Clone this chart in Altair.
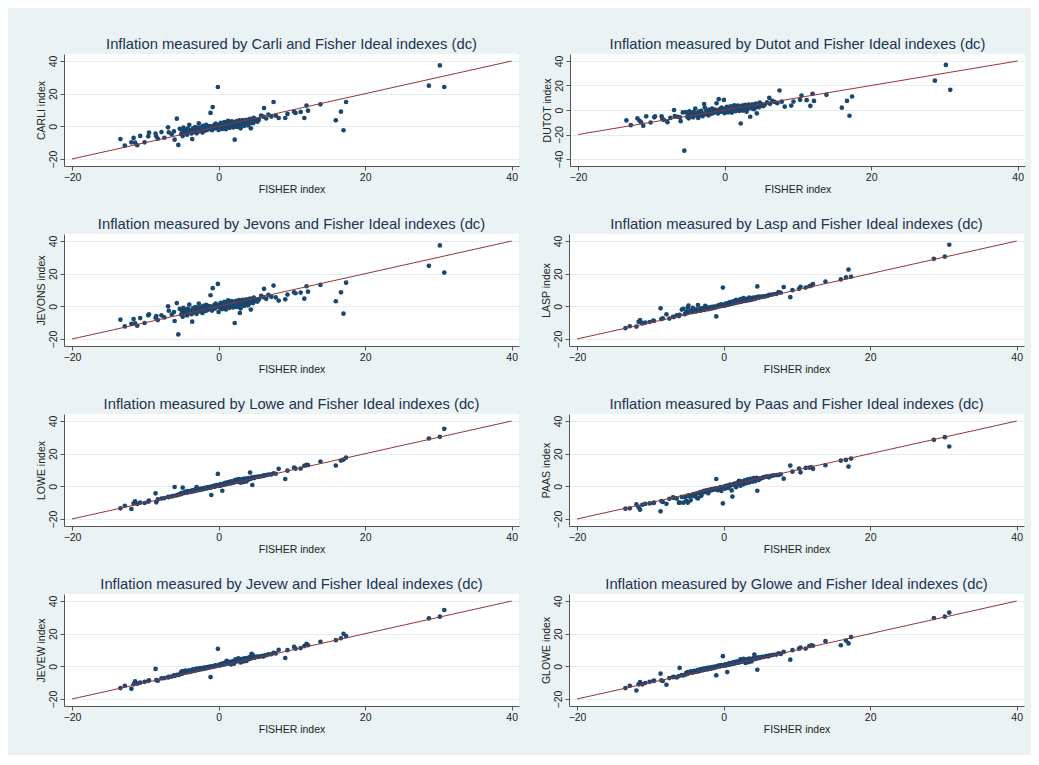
import altair as alt
import pandas as pd

# ---------------- data ----------------
FISHER = [
    -13.4, -12.8, -11.9, -11.6, -11.4, -11.1, -10.7, -10.1, -9.6, -9.5,
    -8.6, -8.5, -8.3, -7.8, -7.4, -6.9, -6.8, -6.4, -6.1, -6.0,
    -5.7, -5.5,
    -5.3, -5.1, -5.0, -4.9, -4.8, -4.6, -4.5, -4.3, -4.2, -4.1,
    -4.0, -3.8, -3.7, -3.6, -3.5, -3.3, -3.2, -3.1, -3.0, -2.8,
    -2.7, -2.6, -2.5, -2.3, -2.2, -2.1, -2.0, -1.8, -1.7, -1.6,
    -1.5, -1.3, -1.2, -1.1, -1.0, -0.9, -0.8, -0.6, -0.5, -0.4,
    -0.3, -0.1,
    0.0, 0.1, 0.2, 0.3, 0.4, 0.5, 0.6, 0.7, 0.8, 0.9,
    1.0, 1.1, 1.2, 1.3, 1.4, 1.5, 1.6, 1.7, 1.8, 1.9,
    2.0, 2.1, 2.2, 2.3, 2.4, 2.5, 2.6, 2.7, 2.8, 2.9,
    3.0, 3.1, 3.2, 3.3, 3.4, 3.5, 3.6, 3.7, 3.8, 3.9,
    4.0, 4.1, 4.2, 4.3, 4.4, 4.5, 4.6, 4.7, 4.8, 4.9,
    5.1, 5.3,
    5.5, 5.8, 6.1, 6.2, 6.5, 6.8, 7.2, 7.5, 7.8, 8.2,
    9.1, 9.4, 10.3, 10.5, 11.2, 11.7, 12.0, 12.2, 13.9,
    16.0, 16.7, 17.05, 17.4, 28.7, 30.2, 30.8,
]

CARLI = [
    -7.8, -11.8, -9.8, -7.1, -10.0, -11.6, -5.9, -9.8, -6.1, -3.9,
    -4.5, -6.1, -7.6, -3.5, -7.0, -0.6, -3.7, -4.9, -3.1, -8.2,
    4.7, -11.4,
    -1.5, -4.8, -2.6, -6.0, -0.8, -3.9, -2.2, -5.1, -1.4, -3.0,
    0.9, -2.5, -4.4, -7.8, -1.2, -3.4, -0.5, -2.2, -4.3, -1.0,
    1.8, -2.9, -0.8, -1.9, -3.8, 0.3, -1.4, -2.6, 0.9, -0.6,
    -2.1, 0.2, -1.1, 8.2, -0.2, -2.4, 11.8, 0.8, -1.3, 1.6,
    -0.4, 24.1,
    -2.2, 0.9, -0.8, 2.1, 0.1, -1.6, 1.2, -0.3, 2.6, 0.5,
    -1.8, 1.7, 0.0, 3.4, 1.1, -0.9, 2.0, 0.6, 3.0, 1.4,
    -0.7, 2.3, -8.2, 1.0, 3.1, -0.4, 1.9, 0.8, 3.6, 1.5,
    -1.2, 2.4, 0.9, 3.8, 1.8, 0.2, 2.7, 1.2, 4.0, 2.2,
    0.6, 3.3, 1.7, 4.6, -1.2, 2.5, 3.9, 1.9, 5.2, 3.0,
    4.1, 2.8,
    4.0, 6.5, 5.9, 11.2, 4.8, 7.2, 6.0, 14.9, 6.6, 5.1,
    5.1, 7.6, 9.0, 8.2, 8.8, 5.1, 12.7, 9.6, 13.5,
    3.7, 9.0, -2.4, 14.9, 24.9, 37.3, 24.1,
]

DUTOT = [
    -8.5, -12.4, -6.9, -8.8, -10.0, -12.9, -5.2, -10.2, -6.0, -5.2,
    -5.2, -7.4, -8.0, -9.9, -6.5, 0.0, -4.9, -5.5, -6.0, -9.1,
    -2.0, -33.2,
    -1.8, -5.5, -3.0, -6.8, -1.0, -4.5, -2.4, -6.0, -1.6, -3.6,
    1.2, -2.8, -5.2, -6.5, -1.4, -4.0, -0.6, -2.5, -5.0, 4.9,
    2.0, -3.3, -0.9, -2.2, -4.4, 0.4, -1.6, -3.0, 1.1, -0.7,
    -2.4, 0.3, -1.3, 5.5, -0.2, -2.8, 8.8, 1.0, -1.5, 1.9,
    -0.5, 8.2,
    -2.6, 1.0, -0.9, 2.5, 0.1, -1.9, 1.4, -0.4, 3.0, 0.6,
    -2.1, 2.0, 0.0, 3.9, 1.3, -1.0, 2.3, 0.7, 3.5, 1.6,
    -0.8, 2.7, -11.0, 1.1, 3.6, -0.5, 2.2, 0.9, 4.2, 1.7,
    -1.4, 2.8, 1.0, 4.4, 2.1, -5.5, 3.1, 1.4, 4.6, 2.5,
    0.7, 3.8, 2.0, 5.3, -2.7, 2.9, 4.5, 2.2, 6.0, 3.5,
    4.7, 3.2,
    4.5, 6.2, 9.9, 5.0, 7.5, 6.6, 5.6, 15.9, 6.8, 2.7,
    3.6, 6.9, 8.3, 11.8, 8.0, 3.3, 13.2, 7.4, 12.4,
    1.9, 7.4, -4.7, 11.0, 23.9, 36.8, 16.5,
]

JEVONS = [
    -8.2, -12.3, -10.7, -7.8, -10.5, -11.9, -7.2, -10.2, -5.5, -4.9,
    -7.0, -6.0, -8.4, -5.5, -6.8, 0.0, -2.7, -5.0, -3.5, -9.0,
    2.0, -17.2,
    -1.6, -5.0, -2.8, -6.4, -0.9, -4.1, -2.3, -5.6, -1.5, -3.3,
    1.0, -2.6, -4.8, -9.4, -1.3, -3.7, -0.5, -2.3, -4.6, -1.0,
    1.6, -3.1, -0.8, -2.0, -4.1, 0.3, -1.5, -2.8, 0.9, -0.6,
    -2.3, 0.2, -1.2, 6.8, -0.2, -2.6, 11.1, 0.8, -1.4, 1.7,
    -0.4, 13.7,
    -3.4, 0.9, -0.8, 2.2, 0.1, -1.7, 1.3, -0.3, 2.8, 0.5,
    -1.9, 1.8, 0.0, 3.6, 1.2, -0.9, 2.1, 0.6, 3.2, 1.5,
    -0.7, 2.5, -10.2, 1.0, 3.3, -0.4, 2.0, 0.8, 3.8, -4.1,
    -1.3, 2.6, 0.9, 4.0, 1.9, 0.2, 2.9, 1.3, 4.2, 2.3,
    0.6, 3.5, 1.8, 4.8, -2.0, 2.6, 4.1, 2.0, 5.4, 3.1,
    4.3, 2.9,
    4.2, 6.4, 5.6, 10.7, 4.6, 7.0, 5.8, 12.7, 5.5, 3.5,
    4.3, 7.2, 8.6, 8.0, 8.4, 4.7, 12.3, 9.0, 13.1,
    3.1, 8.6, -4.5, 14.5, 24.8, 37.3, 20.7,
]

LASP = [
    -13.4, -12.2, -12.4, -9.5, -8.5, -10.5, -10.0, -9.6, -8.7, -9.0,
    -1.2, -7.8, -7.4, -4.9, -7.5, -6.4, -6.6, -5.5, -6.0, -5.2,
    -2.0, -1.5,
    -4.8, -3.3, -4.2, -0.8, 0.4, -3.5, -2.6, -3.6, -1.0, -3.2,
    -2.5, -3.1, -1.8, -2.9, 0.8, -2.4, -1.6, -2.7, -1.2, -2.1,
    -0.9, -2.2, 0.3, -1.6, -0.8, -1.8, -1.0, -1.2, -0.4, -1.3,
    -0.3, -0.8, -0.1, -0.7, -6.2, -0.3, 0.5, -0.1, 0.9, 0.2,
    1.2, 11.5,
    0.4, 1.1, 0.5, 1.6, 0.8, 1.9, 1.0, 2.1, 1.3, 2.6,
    1.5, 2.2, 1.6, 3.1, 2.0, 2.6, 2.1, 4.0, 2.4, 3.0,
    2.5, 3.4, 2.7, 4.4, 2.9, 3.6, 3.1, 5.0, 3.3, 4.1,
    3.4, 4.6, 3.6, 4.2, 3.8, 5.3, 4.0, 4.5, 4.1, 5.0,
    4.4, 5.4, 4.6, 5.1, 4.8, 5.6, 12.2, 5.3, 5.9, 5.4,
    5.8, 6.0,
    6.0, 6.2, 6.6, 7.0, 7.1, 7.4, 7.6, 8.7, 8.3, 11.8,
    5.6, 9.9, 10.7, 12.0, 11.5, 12.3, 12.8, 13.6, 15.1,
    16.5, 17.7, 22.5, 18.1, 29.1, 30.5, 37.7,
]

LOWE = [
    -13.5, -11.9, -13.9, -10.5, -9.2, -10.8, -10.0, -10.2, -9.4, -8.8,
    -4.3, -9.8, -8.0, -7.5, -7.2, -6.5, -6.6, -6.2, -5.8, -0.4,
    -5.5, -5.0,
    -5.0, -4.2, -4.6, -0.8, -3.9, -4.1, -3.3, -3.8, -2.9, -3.5,
    -3.0, -3.4, -2.6, -3.1, -2.4, -2.9, -2.0, -2.7, -0.5, -2.3,
    -1.7, -2.2, -1.5, -1.9, -1.3, -1.7, -1.1, -1.4, -0.8, -1.2,
    -0.6, -0.9, -0.3, -0.8, -5.3, -0.4, 0.2, -0.2, 0.5, 0.0,
    0.8, 7.6,
    0.3, 0.9, 0.4, 1.3, 0.7, -2.7, 0.9, 1.7, 1.1, 2.1,
    1.4, 2.0, 1.5, 2.6, 1.9, 2.4, 1.8, 3.0, 2.2, 2.8,
    2.3, 3.3, 2.6, 3.9, 2.8, 3.4, 2.9, 4.5, 3.1, 3.9,
    2.2, 4.3, 3.4, 4.0, 2.6, 4.8, 3.9, 4.4, 3.0, 4.7,
    4.2, 5.0, 4.4, 8.4, 4.7, 5.3, 0.8, 5.1, 5.6, 5.2,
    5.7, 5.8,
    5.9, 6.1, 6.4, 6.7, 6.9, 7.2, 7.3, 8.0, 7.7, 10.7,
    4.5, 9.6, 11.5, 10.8, 10.9, 12.6, 13.1, 13.0, 15.2,
    12.7, 15.8, 16.4, 17.6, 29.3, 30.3, 35.2,
]

PAAS = [
    -13.7, -13.5, -11.1, -12.9, -14.3, -11.3, -10.8, -10.5, -10.2, -10.0,
    -15.3, -9.0, -9.6, -10.7, -7.6, -6.8, -7.0, -7.5, -10.0, -10.0,
    -6.5, -10.0,
    -6.5, -8.9, -6.0, -10.0, -5.5, -6.3, -8.6, -5.2, -6.0, -4.8,
    -5.4, -4.6, -6.9, -4.3, -7.4, -4.0, -3.6, -5.9, -5.3, -3.3,
    -2.9, -3.5, -2.6, -3.1, -2.4, -4.2, -2.2, -2.5, -1.9, -2.3,
    -1.7, -2.0, -1.4, -1.8, 4.5, -1.2, -2.4, -0.9, -1.1, -0.4,
    -2.8, -10.5,
    -0.5, -0.2, -1.4, 0.1, -0.3, 0.4, -1.0, 0.5, 0.2, 1.0,
    0.6, -2.5, -6.3, 1.2, 0.9, 1.6, 1.1, -0.5, 1.7, 2.3,
    1.6, 3.3, 2.0, 0.4, 2.3, 3.0, 2.5, 1.2, 2.7, 3.6,
    2.9, 1.9, 3.1, 4.3, 3.3, 2.4, 3.5, 4.6, 3.7, 2.8,
    3.9, 5.0, 4.0, 3.1, 4.2, 5.2, -2.7, 4.4, 3.8, 4.8,
    4.9, 5.2,
    5.6, 5.9, 6.1, 5.5, 6.4, 6.7, 6.9, 7.0, 7.4, 4.7,
    12.7, 9.0, 10.9, 8.6, 11.3, 11.5, 11.7, 10.7, 12.9,
    15.8, 16.2, 12.1, 17.0, 28.5, 30.1, 24.4,
]

JEVEW = [
    -13.3, -11.9, -13.8, -11.0, -9.2, -10.6, -10.0, -9.5, -9.0, -8.6,
    -1.6, -8.5, -8.8, -7.4, -7.2, -6.8, -6.5, -6.3, -5.6, -5.9,
    -5.2, -5.3,
    -4.9, -3.4, -4.5, -2.9, -4.1, -3.9, -2.6, -3.7, -3.0, -3.4,
    -2.4, -3.2, -2.5, -3.0, -1.9, -2.7, -1.8, -2.5, -1.4, -2.2,
    -1.5, -2.0, -1.1, -1.8, -1.2, -1.6, -0.8, -1.3, -0.7, -1.1,
    -0.4, -0.8, -0.2, -6.6, -0.4, 0.0, -0.3, 0.3, 0.0, 0.6,
    0.2, 10.7,
    0.5, 1.0, 0.6, 1.4, 0.8, 1.7, 1.0, 1.9, 1.3, 2.3,
    1.5, 3.4, 1.7, 2.4, 1.9, 2.8, 2.1, 1.2, 2.4, 3.1,
    2.6, 1.6, 2.8, 4.2, 3.0, 3.7, 3.2, 4.9, 3.4, 4.1,
    2.4, 4.5, 3.7, 4.3, 3.0, 4.9, 4.1, 4.6, 3.3, 5.0,
    4.4, 5.2, 4.6, 5.8, 4.9, 7.6, 5.1, 6.8, 5.5, 5.3,
    5.7, 6.0,
    5.8, 6.3, 6.0, 6.6, 6.9, 7.3, 7.4, 8.3, 7.9, 10.1,
    5.1, 9.9, 11.9, 10.8, 11.2, 12.4, 13.8, 12.9, 15.0,
    16.0, 17.2, 19.9, 18.5, 29.4, 30.4, 34.5,
]

GLOWE = [
    -13.3, -11.9, -14.8, -11.0, -9.7, -11.0, -10.2, -9.5, -9.0, -8.8,
    -4.5, -8.6, -9.0, -11.3, -7.2, -6.6, -6.4, -6.8, -6.0, -1.0,
    -5.4, -5.5,
    -5.2, -4.0, -4.7, -3.6, -4.3, -3.8, -3.0, -3.9, -3.2, -3.6,
    -2.7, -3.3, -2.8, -3.2, -2.3, -2.9, -1.9, -2.6, -1.7, -2.4,
    -1.4, -2.1, -1.3, -1.9, -1.0, -1.7, -0.9, -1.5, -0.6, -1.2,
    -0.5, -0.9, -0.2, -0.7, -5.5, -0.3, 0.3, -0.1, 0.6, 0.1,
    0.7, 6.2,
    0.4, 0.9, 0.5, 1.2, 0.7, -3.5, 0.9, 1.6, 1.1, 2.0,
    1.4, 1.9, 1.5, 2.5, 1.8, 2.3, 1.9, 2.9, 2.2, 2.7,
    2.3, 3.2, 2.5, 4.2, 2.8, 3.3, 3.0, 4.6, 3.1, 3.8,
    2.1, 4.3, 3.4, 3.9, 2.6, 4.7, 3.8, 4.3, 3.0, 4.6,
    4.2, 5.0, 7.2, 4.8, 4.6, 5.2, -2.1, 5.0, 5.5, 5.1,
    5.6, 5.8,
    5.7, 6.2, 6.1, 6.5, 6.8, 7.1, 7.2, 8.0, 7.6, 8.8,
    4.1, 9.9, 10.8, 11.5, 10.9, 12.4, 12.9, 12.6, 15.4,
    12.9, 15.8, 14.0, 17.9, 29.6, 30.4, 32.9,
]

# 45-degree reference line end points
LINE_X = [-20, 40]
LINE_Y = [-20, 40]

X_TICKS = [-20, 0, 20, 40]
Y_TICKS_STD = [-20, 0, 20, 40]
Y_TICKS_DUTOT = [-40, -20, 0, 20, 40]

PANELS = [
    ("Carli", "CARLI", CARLI, "std"),
    ("Dutot", "DUTOT", DUTOT, "dutot"),
    ("Jevons", "JEVONS", JEVONS, "std"),
    ("Lasp", "LASP", LASP, "std"),
    ("Lowe", "LOWE", LOWE, "std"),
    ("Paas", "PAAS", PAAS, "std"),
    ("Jevew", "JEVEW", JEVEW, "std"),
    ("Glowe", "GLOWE", GLOWE, "std"),
]

# ---------------- styling ----------------
BG = "#EAF2F3"
GRID = "#E4EDEF"
NAVY = "#1A476F"
MAROON = "#90353B"
TITLE_COL = "#1E3250"
TEXT_COL = "#222222"
AXIS_COL = "#555555"
FONT = "Liberation Sans"

X_DOMAIN = [-21.1, 41.0]
Y_DOMAIN_STD = [-24.3, 44.3]
Y_DOMAIN_DUTOT = [-45.7, 45.7]

PW, PH = 455, 112


def panel(name, label, ys, kind):
    ydom = Y_DOMAIN_DUTOT if kind == "dutot" else Y_DOMAIN_STD
    yticks = Y_TICKS_DUTOT if kind == "dutot" else Y_TICKS_STD
    df = pd.DataFrame({"x": FISHER, "y": ys})
    ldf = pd.DataFrame({"x": LINE_X, "y": LINE_Y})
    xs = alt.Scale(domain=X_DOMAIN, nice=False, zero=False)
    ysc = alt.Scale(domain=ydom, nice=False, zero=False)
    xax = alt.Axis(values=X_TICKS, title="FISHER index", grid=False, format="d")
    yax = alt.Axis(values=yticks, title=f"{label} index", grid=True,
                   labelAngle=270, format="d")
    pts = alt.Chart(df).mark_circle(size=22, color=NAVY, opacity=1).encode(
        x=alt.X("x:Q", scale=xs, axis=xax),
        y=alt.Y("y:Q", scale=ysc, axis=yax),
    )
    ln = alt.Chart(ldf).mark_line(color=MAROON, strokeWidth=1).encode(
        x=alt.X("x:Q", scale=xs, axis=xax),
        y=alt.Y("y:Q", scale=ysc, axis=yax),
    )
    return alt.layer(pts, ln).properties(
        width=PW, height=PH,
        title=alt.TitleParams(
            f"Inflation measured by {name} and Fisher Ideal indexes (dc)",
            anchor="middle", frame="group", fontSize=14.8, font=FONT,
            fontWeight="normal", color=TITLE_COL, offset=2,
        ),
    )


rows = []
for i in range(0, 8, 2):
    rows.append(alt.hconcat(panel(*PANELS[i]), panel(*PANELS[i + 1]), spacing=22))

chart = alt.vconcat(*rows, spacing=22).configure(
    background=BG,
    padding={"left": 28, "top": 29, "right": 6, "bottom": 20},
    font=FONT,
).configure_view(
    stroke=None, fill="white"
).configure_axis(
    domainColor=AXIS_COL, tickColor=AXIS_COL, tickSize=4, domainWidth=1,
    labelFontSize=10.5, titleFontSize=10.5, labelColor=TEXT_COL,
    titleColor=TEXT_COL, titleFontWeight="normal", labelFont=FONT,
    titleFont=FONT, labelPadding=2, titlePadding=2,
    gridColor=GRID, gridWidth=1,
)

chart.save("out.html", embed_options={"renderer": "svg", "actions": False})
